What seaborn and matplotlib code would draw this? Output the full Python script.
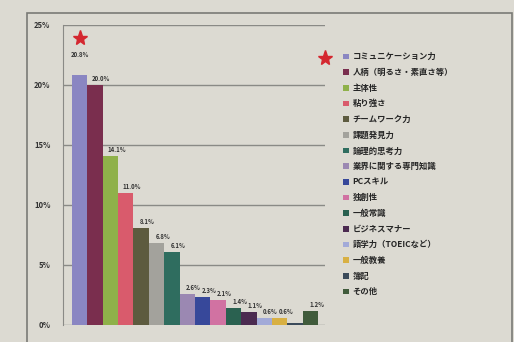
import matplotlib
matplotlib.use('Agg')
import matplotlib.pyplot as plt
import seaborn as sns
from matplotlib.patches import Patch, Rectangle

# data
skills = ['コミュニケーション力', '人柄（明るさ・素直さ等）', '主体性', '粘り強さ',
          'チームワーク力', '課題発見力', '論理的思考力', '業界に関する専門知識',
          'PCスキル', '独創性', '一般常識', 'ビジネスマナー', '語学力（TOEICなど）',
          '一般教養', '簿記', 'その他']
share = [20.8, 20.0, 14.1, 11.0, 8.1, 6.8, 6.1, 2.6, 2.3, 2.1, 1.4, 1.1, 0.6, 0.6, 0.2, 1.2]
labels = ['20.8%', '20.0%', '14.1%', '11.0%', '8.1%', '6.8%', '6.1%', '2.6%', '2.3%',
          '2.1%', '1.4%', '1.1%', '0.6%', '0.6%', '', '1.2%']
colors = ['#8a86c2', '#7a2e4e', '#8fb14a', '#d95b6c', '#5d5b3f', '#a3a29c', '#2f6d5f',
          '#9b88b2', '#37489a', '#d172a2', '#2a6150', '#4b2a50', '#a2aad8', '#d8b043',
          '#3b4a5a', '#405b3b']
yticks = [0, 5, 10, 15, 20, 25]

sns.set_style('white')
plt.rcParams['font.family'] = ['Noto Sans CJK JP', 'DejaVu Sans']
paper = '#dcdad2'

fig = plt.figure(figsize=(5.14, 3.42), dpi=100, facecolor=paper)
ax = fig.add_axes([63/514, 17/342, 262/514, 300/342])
ax.set_facecolor(paper)

df = {'skill': skills, 'share': share}
sns.barplot(x='skill', y='share', hue='skill', data=df, palette=colors,
            width=1.0, legend=False, ax=ax, saturation=1, linewidth=0, edgecolor='none')

ax.set_xlim(-1.08, 15.95)
ax.set_ylim(0, 25)
ax.set_yticks(yticks)
ax.set_yticklabels([f'{t}%' for t in yticks], fontsize=5.5, fontweight='bold', color='#333333')
ax.set_xticks([])
ax.set_xlabel('')
ax.set_ylabel('')
ax.tick_params(axis='y', length=3, color='#8a8a86', pad=6)
for t in yticks:
    ax.axhline(t, color='#8a8a86', lw=1.0, zorder=0)
for s in ['top', 'right', 'bottom']:
    ax.spines[s].set_visible(False)
ax.spines['left'].set_color('#8a8a86')

# value labels
for i, (v, lab) in enumerate(zip(share, labels)):
    if i == 0:
        ax.text(i, v + 1.45, lab, ha='center', va='bottom', fontsize=4.3, fontweight='bold', color='#333333')
    elif lab:
        ax.text(i + 0.4, v + 0.25, lab, ha='center', va='bottom', fontsize=4.3, fontweight='bold', color='#333333')

# star markers
ax.plot([0], [23.9], marker='*', markersize=11, color='#d4272f', clip_on=False)
ax.plot([325/514], [1 - 58/342], marker='*', markersize=11, color='#d4272f',
        transform=fig.transFigure, clip_on=False)

# legend
handles = [Patch(facecolor=c, edgecolor='none') for c in colors]
ax.legend(handles, skills, loc='upper left', bbox_to_anchor=(340/514, 1 - 49/342),
          bbox_transform=fig.transFigure, frameon=False,
          prop={'weight': 'bold', 'size': 6}, handlelength=0.7, handleheight=0.7,
          handletextpad=0.4, labelspacing=0.8, borderaxespad=0)

# outer frame printed on the page
fig.patches.append(Rectangle((27/514, -0.05), 485/514, 1 - 13/342 + 0.05,
                             transform=fig.transFigure, fill=False,
                             edgecolor='#7a7a76', lw=1.2))

fig.savefig('out.png', dpi=100, facecolor=paper)
